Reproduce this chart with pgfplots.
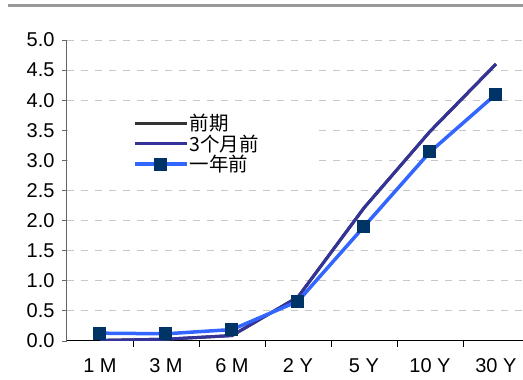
\documentclass[border=0pt]{standalone}
\usepackage{pgfplots}
\pgfplotsset{compat=1.18}
\usepackage{fontspec}
\setmainfont{Liberation Sans}
\newfontfamily\cjk{Noto Sans CJK SC}

\definecolor{latest}{HTML}{333333}
\definecolor{threem}{HTML}{333399}
\definecolor{yearago}{HTML}{3366FF}
\definecolor{markfill}{HTML}{003366}
\definecolor{gridgray}{HTML}{C8C8C8}

\begin{document}
\begin{tikzpicture}[x=1pt,y=1pt]
\useasboundingbox (0,0) rectangle (523,380);
% header rule
\fill[black!40] (8,373) rectangle (523,376);
\begin{axis}[
  at={(67pt,39pt)}, anchor=south west, scale only axis,
  width=456pt, height=301pt,
  xmin=0.5, xmax=7.41, ymin=0, ymax=5,
  axis x line*=bottom, axis y line*=left,
  x axis line style={black, line width=1pt},
  y axis line style={black!60, line width=1pt},
  tick align=outside,
  major tick length=5pt,
  xtick={1,...,7},
  xticklabels={1 M,3 M,6 M,2 Y,5 Y,10 Y,30 Y},
  major x tick style={draw=none},
  minor xtick={1.5,2.5,...,6.5},
  minor tick length=6pt,
  minor x tick style={black, line width=0.8pt},
  ytick={0,0.5,...,5},
  y tick style={black!60, line width=0.8pt},
  ymajorgrids,
  grid style={gridgray, line width=1pt, dash pattern=on 7pt off 7pt},
  tick label style={font=\fontsize{20}{20}\selectfont, black},
  /pgf/number format/assume math mode=true,
  yticklabel style={xshift=-4pt, /pgf/number format/.cd, fixed, fixed zerofill, precision=1},
  xticklabel style={yshift=-9pt},
  legend style={draw=none, fill=none, at={(0.138,0.764)}, anchor=north west,
    font=\cjk\fontsize{19.5}{19.5}\selectfont, row sep=0.5pt,
    nodes={inner sep=1pt}},
  legend cell align=left,
  legend image code/.code={
    \draw[mark repeat=2,mark phase=2,#1] plot coordinates {(0pt,0pt) (26pt,0pt) (52pt,0pt)};
  },
]
% blank panel behind the legend
\fill[white] (axis cs:0.52,2.59) rectangle (axis cs:4.29,3.92);

\addplot[latest, line width=3pt, no marks] coordinates {
  (1,0.01) (2,0.03) (3,0.09) (4,0.73) (5,2.21) (6,3.48) (7,4.60)};
\addlegendentry{前期}

\addplot[threem, line width=3pt, no marks] coordinates {
  (1,0.01) (2,0.03) (3,0.09) (4,0.73) (5,2.21) (6,3.48) (7,4.60)};
\addlegendentry{3个月前}

\addplot[yearago, line width=3.5pt, mark=square*, mark size=6pt,
  mark options={fill=markfill, draw=markfill, line width=0pt}] coordinates {
  (1,0.13) (2,0.12) (3,0.19) (4,0.66) (5,1.90) (6,3.14) (7,4.10)};
\addlegendentry{一年前}
\end{axis}
\end{tikzpicture}
\end{document}
